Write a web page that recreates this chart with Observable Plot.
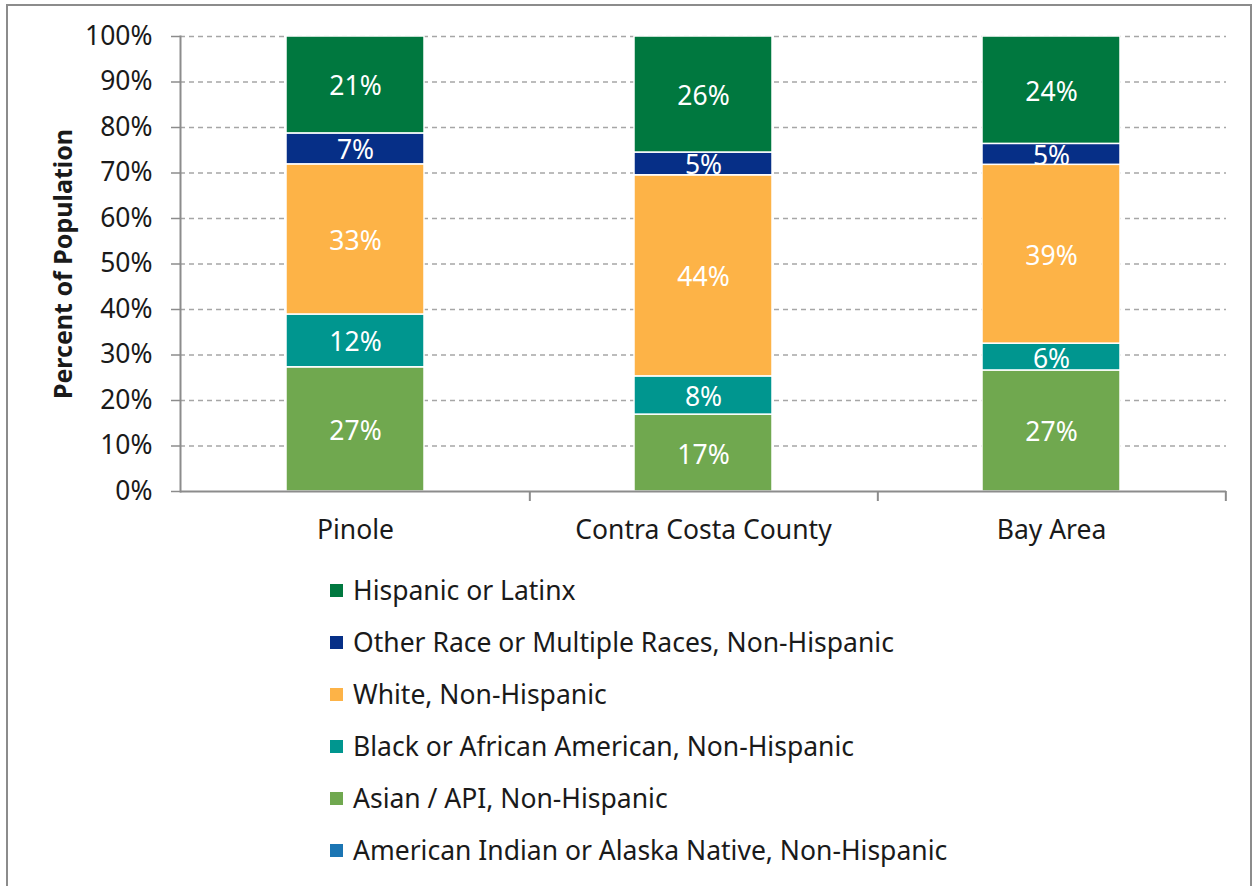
<!DOCTYPE html>
<html><head><meta charset="utf-8">
<script src="https://cdn.jsdelivr.net/npm/d3@7"></script>
<script src="https://cdn.jsdelivr.net/npm/@observablehq/plot@0.6"></script>
<style>
body{margin:0;background:#fff;font-family:"Noto Sans",sans-serif;}
#frame{position:absolute;left:6px;top:4px;width:1246px;height:900px;border:2px solid #8c8c8c;box-sizing:border-box;}
#chart{position:absolute;left:0;top:0;}
#ylabel{position:absolute;left:62px;top:264px;transform:translate(-50%,-50%) rotate(-90deg);white-space:nowrap;font-weight:bold;font-size:25px;color:#1a1a1a;}
#legend{position:absolute;left:330px;top:564px;}
.row{height:52px;display:flex;align-items:center;font-size:26.5px;color:#1a1a1a}
.sw{width:13px;height:13px;margin-right:10px;flex:none}
</style></head>
<body>
<div id="frame"></div>
<div id="chart"></div>
<div id="ylabel">Percent of Population</div>
<div id="legend"></div>
<script>
const places = ["Pinole", "Contra Costa County", "Bay Area"];
const groups = [
  "American Indian or Alaska Native, Non-Hispanic",
  "Asian / API, Non-Hispanic",
  "Black or African American, Non-Hispanic",
  "White, Non-Hispanic",
  "Other Race or Multiple Races, Non-Hispanic",
  "Hispanic or Latinx"
];
const colors = ["#1b75b3", "#70a84f", "#00968f", "#fdb347", "#062f87", "#00783f"];
const amIndian = [0, 0, 0];
const asian    = [27.3, 16.9, 26.6];
const black    = [11.6, 8.4, 5.9];
const white    = [33.0, 44.2, 39.3];
const other    = [6.8, 5.0, 4.6];
const hispanic = [21.3, 25.5, 23.6];
const yTicks = [0, 10, 20, 30, 40, 50, 60, 70, 80, 90, 100];
const legendOrder = [5, 4, 3, 2, 1, 0];

const series = [amIndian, asian, black, white, other, hispanic];
const data = [];
series.forEach((vals, gi) => vals.forEach((v, pi) => data.push({place: places[pi], group: groups[gi], value: v})));

const W = 1258, H = 560, mL = 180, mR = 32, mT = 36, mB = 69;
const halfStep = (W - mL - mR) / places.length / 2;

const chart = Plot.plot({
  width: W, height: H, marginLeft: mL, marginRight: mR, marginTop: mT, marginBottom: mB,
  style: {fontFamily: "Noto Sans", fontSize: "26.5px", color: "#1a1a1a", background: "transparent"},
  x: {domain: places, paddingInner: 0.604, paddingOuter: 0.302, label: null},
  y: {domain: [0, 100], label: null},
  color: {domain: groups, range: colors},
  marks: [
    Plot.ruleY(yTicks.filter(d => d > 0), {stroke: "#a6a6a6", strokeWidth: 1.3, strokeDasharray: "5,4"}),
    Plot.barY(data, {x: "place", y: "value", fill: "group", order: groups, stroke: "white", strokeWidth: 1.5}),
    Plot.text(data, Plot.stackY({
      x: "place", y: "value", z: "group", order: groups,
      text: d => d.value > 0 ? Math.round(d.value) + "%" : "",
      fill: "white", fontSize: 26.5, dy: 2
    })),
    Plot.axisY({ticks: yTicks, tickFormat: d => d + "%", tickSize: 9, tickPadding: 19, label: null, stroke: "#8c8c8c", strokeWidth: 1.5}),
    Plot.axisX({tickSize: 0, tickPadding: 29, label: null}),
    Plot.ruleX(places, {x: d => d, dx: halfStep, y1: 0, y2: -2.2, stroke: "#8c8c8c", strokeWidth: 2}),
    Plot.ruleY([0], {stroke: "#8c8c8c", strokeWidth: 2}),
    Plot.frame({anchor: "left", stroke: "#8c8c8c", strokeWidth: 2})
  ]
});
document.getElementById("chart").appendChild(chart);

const legend = document.getElementById("legend");
legendOrder.forEach(i => {
  const row = document.createElement("div");
  row.className = "row";
  const sw = document.createElement("div");
  sw.className = "sw";
  sw.style.background = colors[i];
  const t = document.createElement("span");
  t.textContent = groups[i];
  row.appendChild(sw); row.appendChild(t);
  legend.appendChild(row);
});
</script>
</body></html>
